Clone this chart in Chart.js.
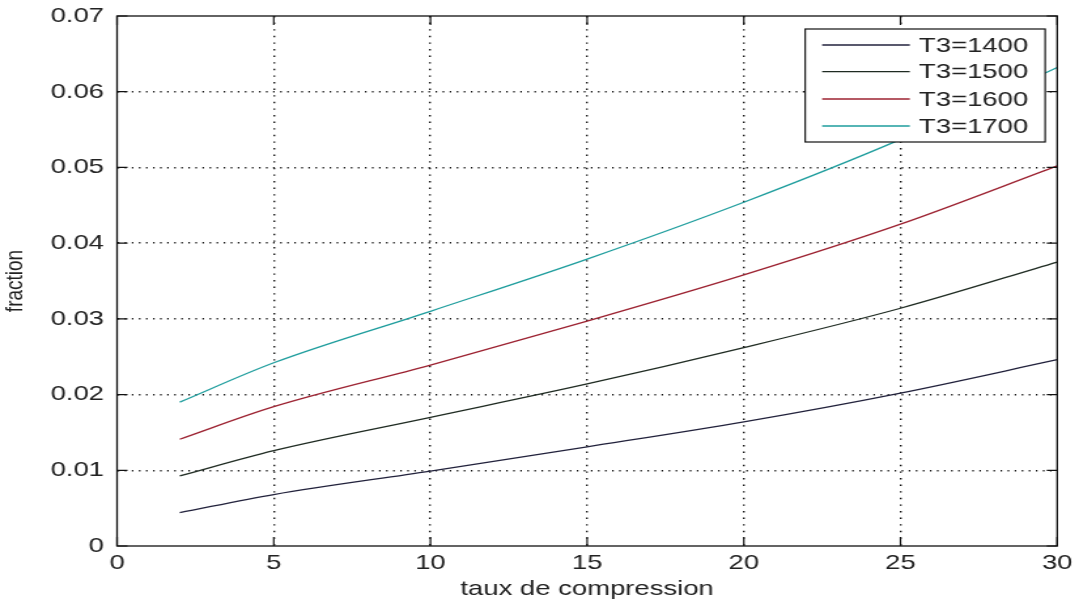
<!DOCTYPE html>
<html>
<head>
<meta charset="utf-8">
<script src="https://cdn.jsdelivr.net/npm/chart.js@4/dist/chart.umd.min.js"></script>
<style>
	html, body { margin: 0; padding: 0; background: #fff; overflow: hidden; }
	/* the reference is stretched sideways, so draw narrow and stretch */
	#wrap { width: 825px; height: 602px; transform: scaleX(1.30788); transform-origin: 0 0; }
</style>
</head>
<body>
<div id="wrap"><canvas id="chart"></canvas></div>
<script>
const compression = [2, 5, 10, 15, 20, 25, 30];
const t1400 = [0.0044, 0.0068, 0.0099, 0.0131, 0.0164, 0.0202, 0.0246];
const t1500 = [0.00925, 0.0126, 0.0170, 0.0214, 0.0262, 0.0314, 0.0375];
const t1600 = [0.0141, 0.0184, 0.0239, 0.0297, 0.0358, 0.0425, 0.0502];
const t1700 = [0.0190, 0.0242, 0.0310, 0.0379, 0.0454, 0.0537, 0.0632];
const seriesLabels = ["T3=1400", "T3=1500", "T3=1600", "T3=1700"];
const seriesColors = ["#22223c", "#1f2b22", "#9c2231", "#1e9d9d"];

const FONT = "'Liberation Sans', Arial, sans-serif";

const toPoints = (ys) => compression.map((x, i) => ({ x, y: ys[i] }));

// matlab-ish box, inner ticks and boxed legend
const matlabBox = {
	id: "matlabBox",
	afterDatasetsDraw(chart) {
		const { ctx, chartArea: a, scales } = chart;
		ctx.save();
		ctx.strokeStyle = "#111";
		ctx.lineWidth = 1.3;
		ctx.strokeRect(a.left, a.top, a.right - a.left, a.bottom - a.top);

		ctx.lineWidth = 1.2;
		ctx.beginPath();
		scales.x.ticks.forEach((t) => {
			const px = scales.x.getPixelForValue(t.value);
			ctx.moveTo(px, a.bottom);
			ctx.lineTo(px, a.bottom - 9);
			ctx.moveTo(px, a.top);
			ctx.lineTo(px, a.top + 9);
		});
		scales.y.ticks.forEach((t) => {
			const py = scales.y.getPixelForValue(t.value);
			ctx.moveTo(a.left, py);
			ctx.lineTo(a.left + 8, py);
			ctx.moveTo(a.right, py);
			ctx.lineTo(a.right - 8, py);
		});
		ctx.stroke();

		// legend
		const bw = 183.5;
		const bh = 113;
		const bx = a.right - 9.2 - bw;
		const by = a.top + 13;
		ctx.fillStyle = "#fff";
		ctx.fillRect(bx, by, bw, bh);
		ctx.lineWidth = 1.2;
		ctx.strokeStyle = "#111";
		ctx.strokeRect(bx, by, bw, bh);
		const rows = [16, 42.7, 70, 97];
		ctx.font = "21px " + FONT;
		ctx.textBaseline = "middle";
		chart.data.datasets.forEach((ds, i) => {
			const y = by + rows[i];
			ctx.strokeStyle = ds.borderColor;
			ctx.lineWidth = 1.3;
			ctx.beginPath();
			ctx.moveTo(bx + 13, y);
			ctx.lineTo(bx + 80, y);
			ctx.stroke();
			ctx.fillStyle = "#222";
			ctx.fillText(ds.label, bx + 87, y + 1);
		});
		ctx.restore();
	},
};

new Chart(document.getElementById("chart"), {
	type: "line",
	data: {
		datasets: [t1400, t1500, t1600, t1700].map((ys, i) => ({
			label: seriesLabels[i],
			data: toPoints(ys),
			borderColor: seriesColors[i],
			borderWidth: 1.3,
			pointRadius: 0,
			fill: false,
			cubicInterpolationMode: "monotone",
		})),
	},
	options: {
		responsive: true,
		maintainAspectRatio: false,
		animation: false,
		layout: { padding: { left: 0, right: 14.5, top: 16, bottom: 0 } },
		plugins: {
			legend: { display: false },
			tooltip: { enabled: false },
		},
		scales: {
			x: {
				type: "linear",
				min: 0,
				max: 30,
				afterFit: (s) => { s.height = 56; },
				ticks: {
					stepSize: 5,
					color: "#222",
					padding: 5,
					font: { family: FONT, size: 21 },
				},
				grid: {
					color: (c) => (c.tick && (c.tick.value === 0 || c.tick.value === 30) ? "rgba(0,0,0,0)" : "#111"),
					lineWidth: 1.4,
					drawTicks: false,
				},
				border: { display: false, dash: [1.4, 5.2] },
				title: {
					display: true,
					text: "taux de compression",
					color: "#222",
					padding: { top: 0, bottom: 0 },
					font: { family: FONT, size: 21 },
				},
			},
			y: {
				min: 0,
				max: 0.07,
				afterFit: (s) => {
					s.width = 89.5;
					s.paddingTop = 0;
					s.paddingBottom = 0;
				},
				ticks: {
					stepSize: 0.01,
					color: "#222",
					padding: 10,
					font: { family: FONT, size: 21 },
					callback: (v) => (v === 0 ? "0" : v.toFixed(2)),
				},
				grid: {
					color: (c) => (c.tick && (c.tick.value === 0 || Math.abs(c.tick.value - 0.07) < 1e-9) ? "rgba(0,0,0,0)" : "#111"),
					lineWidth: 1.4,
					drawTicks: false,
				},
				border: { display: false, dash: [1.2, 4.2] },
				title: {
					display: true,
					text: "fraction",
					color: "#222",
					padding: { top: 0, bottom: 0 },
					font: { family: FONT, size: 19 },
				},
			},
		},
	},
	plugins: [matlabBox],
});
</script>
</body>
</html>
